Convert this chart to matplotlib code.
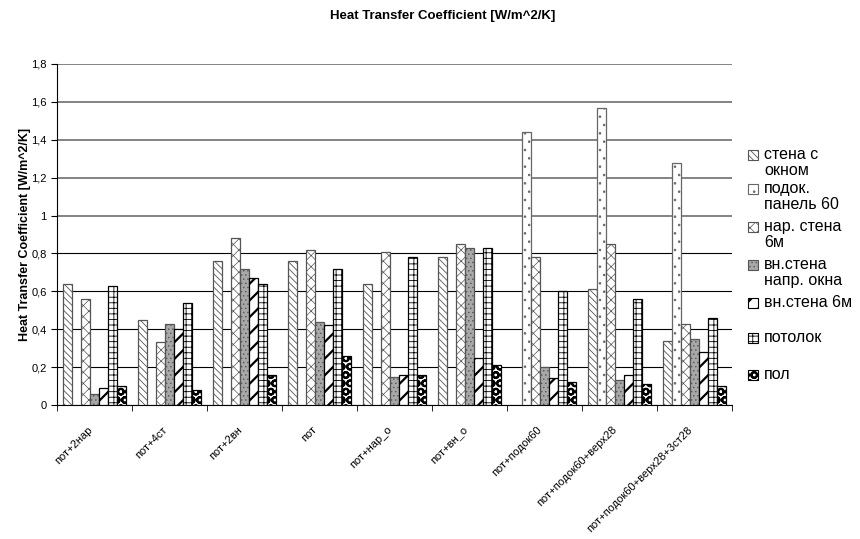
import numpy as np
import matplotlib.pyplot as plt
from matplotlib.patches import Rectangle
from matplotlib.ticker import FuncFormatter

plt.rcParams['font.family'] = ['Liberation Sans', 'DejaVu Sans']
plt.rcParams['hatch.linewidth'] = 0.5

nan = np.nan

cases = ['пот+2нар', 'пот+4ст', 'пот+2вн', 'пот', 'пот+нар_о', 'пот+вн_о',
         'пот+подок60', 'пот+подок60+верх28', 'пот+подок60+верх28+3ст28']

series = ['стена с\nокном', 'подок.\nпанель 60', 'нар. стена\n6м', 'вн.стена\nнапр. окна',
          'вн.стена 6м', 'потолок', 'пол']

# values per surface, one per case (nan = not present)
stena_okno = [0.64, 0.45, 0.76, 0.76, 0.64, 0.78, nan, 0.61, 0.34]
podok = [nan, nan, nan, nan, nan, nan, 1.44, 1.57, 1.28]
nar_stena = [0.56, 0.33, 0.88, 0.82, 0.81, 0.85, 0.78, 0.85, 0.43]
vn_napr = [0.06, 0.43, 0.72, 0.44, 0.15, 0.83, 0.20, 0.13, 0.35]
vn_6m = [0.09, 0.40, 0.67, 0.42, 0.16, 0.25, 0.14, 0.16, 0.28]
potolok = [0.63, 0.54, 0.64, 0.72, 0.78, 0.83, 0.60, 0.56, 0.46]
pol = [0.10, 0.08, 0.16, 0.26, 0.16, 0.21, 0.12, 0.11, 0.10]

data = [stena_okno, podok, nar_stena, vn_napr, vn_6m, potolok, pol]

# look of each series: (face, edge, hatch, hatch width)
styles = [('white', '#555555', '\\\\\\\\\\', 0.6),
          ('white', '#666666', '..', 0.6),
          ('white', '#555555', 'xxx', 0.5),
          ('#a8a8a8', '#555555', '....', 0.5),
          ('white', 'black', '//', 1.6),
          ('white', 'black', '+++', 0.6),
          ('white', 'black', 'OO', 1.5)]

fig = plt.figure(figsize=(8.6, 5.39), dpi=100)
ax = fig.add_axes([57/860, 1-405/539, 675/860, 341/539])

x = np.arange(len(cases)) + 0.5
w = 0.12
for j, vals in enumerate(data):
    face, edge, hatch, hlw = styles[j]
    b = ax.bar(x + (j - 3) * w, vals, w, color=face, edgecolor=edge, hatch=hatch,
               linewidth=0.9, zorder=3)
    for p in b.patches:
        try:
            p.set_hatch_linewidth(hlw)
        except AttributeError:
            pass

ax.set_xlim(0, len(cases))
ax.set_ylim(0, 1.8)
ax.set_yticks(np.arange(0, 1.81, 0.2))
ax.yaxis.set_major_formatter(FuncFormatter(lambda v, p: ('%g' % round(v, 1)).replace('.', ',')))
ax.yaxis.grid(True, color='black', linewidth=0.8, zorder=0)
for t, gl in zip(ax.get_yticks(), ax.get_ygridlines()):
    if t > 0.85:
        gl.set_color('#7a7a7a')
        gl.set_linewidth(1.3)

ax.set_xticks(np.arange(len(cases) + 1), minor=True)
ax.set_xticks(x - 0.1)
ax.set_xticklabels(cases, rotation=45, ha='right', rotation_mode='anchor', fontsize=8)
ax.tick_params(axis='x', which='major', length=0, pad=14)
ax.tick_params(axis='x', which='minor', length=4, direction='out')
ax.tick_params(axis='y', labelsize=8, length=4, direction='out')

for s in ['top', 'right']:
    ax.spines[s].set_visible(False)

ax.set_ylabel('Heat Transfer Coefficient [W/m^2/K]', fontsize=9, fontweight='bold', labelpad=0)
fig.text(443/860, 1-16/539, 'Heat Transfer Coefficient [W/m^2/K]', ha='center', va='center',
         fontsize=9.5, fontweight='bold')

# legend drawn by hand: first line of each entry at these heights
leg_y = [155, 189, 227, 265, 303, 338, 375]
for j, lab in enumerate(series):
    face, edge, hatch, hlw = styles[j]
    yc = 1 - leg_y[j] / 539
    r = Rectangle((748/860, yc - 5/539), 10/860, 10/539, transform=fig.transFigure,
                  facecolor=face, edgecolor=edge, hatch=hatch, linewidth=0.8)
    try:
        r.set_hatch_linewidth(hlw)
    except AttributeError:
        pass
    fig.add_artist(r)
    fig.text(764/860, yc + 8/539, lab, ha='left', va='top', fontsize=11.5, linespacing=1.05)

fig.savefig('out.png', dpi=100)
